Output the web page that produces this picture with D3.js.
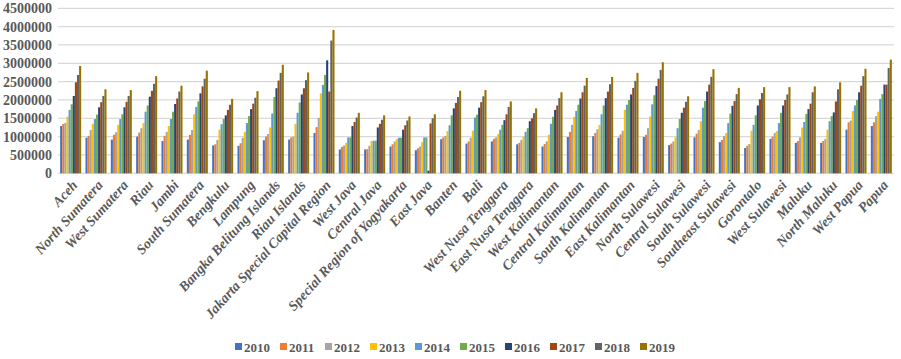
<!DOCTYPE html>
<html><head><meta charset="utf-8">
<script src="https://cdn.jsdelivr.net/npm/d3@7"></script>
<style>body{margin:0;background:#fff}svg{display:block}</style>
</head><body><svg id="c" width="901" height="359"></svg>
<script>
const provinces = ["Aceh","North Sumatera","West Sumatera","Riau","Jambi","South Sumatera","Bengkulu","Lampung","Bangka Belitung Islands","Riau Islands","Jakarta Special Capital Region","West Java","Central Java","Special Region of Yogyakarta","East Java","Banten","Bali","West Nusa Tenggara","East Nusa Tenggara","West Kalimantan","Central Kalimantan","South Kalimantan","East Kalimantan","North Sulawesi","Central Sulawesi","South Sulawesi","Southeast Sulawesi","Gorontalo","West Sulawesi","Maluku","North Maluku","West Papua","Papua"];
const years = ["2010","2011","2012","2013","2014","2015","2016","2017","2018","2019"];
const yTicks = [0,500000,1000000,1500000,2000000,2500000,3000000,3500000,4000000,4500000];
const colors = ["#4472C4","#ED7D31","#A5A5A5","#FFC000","#5B9BD5","#70AD47","#264478","#9E480E","#636363","#997300"];

const s2010 = [1290000,970000,920000,1000000,880000,920000,760000,750000,900000,920000,1100000,650000,650000,730000,630000,930000,810000,870000,790000,730000,990000,1010000,970000,990000,770000,980000,850000,690000,940000,830000,830000,1190000,1290000];
const s2011 = [1345000,1020000,1050000,1110000,1020000,1050000,790000,820000,1000000,980000,1260000,720000,660000,790000,680000,980000,870000,940000,830000,800000,1130000,1100000,1060000,1050000,810000,1080000,910000,750000,1000000,880000,880000,1390000,1390000];
const s2012 = [1373000,1180000,1120000,1230000,1130000,1180000,910000,970000,1070000,1000000,1510000,760000,750000,870000,730000,1020000,970000,980000,910000,870000,1320000,1200000,1160000,1230000,870000,1180000,1020000,800000,1100000,980000,940000,1440000,1560000];
const s2013 = [1545000,1350000,1320000,1370000,1290000,1610000,1190000,1130000,1250000,1350000,2180000,830000,880000,930000,850000,1150000,1160000,1070000,1000000,1050000,1540000,1320000,1730000,1550000,980000,1420000,1100000,1160000,1150000,1250000,1190000,1700000,1680000];
const s2014 = [1727000,1480000,1480000,1680000,1480000,1810000,1340000,1370000,1630000,1650000,2410000,980000,890000,970000,980000,1310000,1520000,1190000,1130000,1350000,1700000,1610000,1870000,1880000,1230000,1790000,1370000,1320000,1370000,1400000,1420000,1850000,2030000];
const s2015 = [1882000,1600000,1610000,1850000,1680000,1960000,1480000,1560000,2080000,1930000,2680000,980000,890000,970000,980000,1580000,1600000,1320000,1230000,1540000,1870000,1850000,2000000,2130000,1480000,1970000,1630000,1580000,1650000,1620000,1560000,2000000,2160000];
const s2016 = [2109000,1800000,1800000,2090000,1890000,2180000,1580000,1750000,2320000,2150000,3080000,1290000,1250000,1190000,70000,1770000,1790000,1450000,1420000,1730000,2040000,2050000,2150000,2380000,1650000,2230000,1840000,1850000,1850000,1750000,1660000,2210000,2420000];
const s2017 = [2482000,1940000,1950000,2250000,2040000,2370000,1730000,1900000,2530000,2320000,2230000,1400000,1350000,1310000,1360000,1920000,1940000,1610000,1500000,1850000,2210000,2230000,2330000,2580000,1790000,2420000,1970000,2020000,2000000,1900000,1960000,2390000,2420000];
const s2018 = [2682000,2110000,2110000,2440000,2230000,2580000,1870000,2060000,2740000,2540000,3620000,1520000,1460000,1440000,1500000,2080000,2100000,1810000,1640000,2050000,2390000,2430000,2520000,2820000,1950000,2630000,2160000,2190000,2150000,2210000,2290000,2650000,2870000];
const s2019 = [2927000,2290000,2270000,2650000,2390000,2800000,2030000,2240000,2960000,2750000,3910000,1650000,1580000,1550000,1610000,2250000,2270000,1960000,1770000,2210000,2600000,2630000,2740000,3030000,2100000,2840000,2330000,2350000,2350000,2370000,2480000,2850000,3100000];
const series = [s2010,s2011,s2012,s2013,s2014,s2015,s2016,s2017,s2018,s2019];

const svg = d3.select("#c");
const pLeft = 58, pRight = 894, pTop = 8.3, pBottom = 173.3;
const y = d3.scaleLinear().domain([0,4500000]).range([pBottom, pTop]);
const x = d3.scaleBand().domain(provinces).range([pLeft, pRight]).paddingInner(0.17).paddingOuter(0.085);
const xi = d3.scaleBand().domain(years).range([0, x.bandwidth()]);

// gridlines
svg.append("g").selectAll("line").data(yTicks).join("line")
  .attr("x1", pLeft).attr("x2", pRight)
  .attr("y1", d => y(d)).attr("y2", d => y(d))
  .attr("stroke", "#d9d9d9").attr("stroke-width", 1.3);

// y labels
svg.append("g").selectAll("text").data(yTicks).join("text")
  .attr("x", 52).attr("y", d => y(d)).attr("dy", "0.35em")
  .attr("text-anchor", "end")
  .attr("font-family", "'Liberation Serif','Times New Roman',serif")
  .attr("font-weight", "bold").attr("font-size", 14).attr("fill", "#595959")
  .text(d => d);

// bars
const g = svg.append("g");
years.forEach((yr, j) => {
  g.append("g").attr("fill", colors[j]).selectAll("rect").data(series[j]).join("rect")
    .attr("x", (d, i) => x(provinces[i]) + xi(yr))
    .attr("width", xi.bandwidth())
    .attr("y", d => y(d))
    .attr("height", d => y(0) - y(d));
});

// category labels
svg.append("g").selectAll("text").data(provinces).join("text")
  .attr("transform", d => `translate(${x(d) + x.bandwidth()/2 + 4},${pBottom + 9}) rotate(-48)`)
  .attr("text-anchor", "end").attr("dy", "0.35em")
  .attr("font-family", "'Liberation Serif','Times New Roman',serif")
  .attr("font-weight", "bold").attr("font-style", "italic")
  .attr("font-size", 14).attr("fill", "#595959")
  .text(d => d);

// legend
const lg = svg.append("g").attr("transform", "translate(235,347)");
const li = lg.selectAll("g").data(years).join("g").attr("transform", (d, i) => `translate(${i*45},0)`);
li.append("rect").attr("x", 0).attr("y", -4).attr("width", 7).attr("height", 7).attr("fill", (d, i) => colors[i]);
li.append("text").attr("x", 9).attr("y", 0).attr("dy", "0.35em")
  .attr("font-family", "'Liberation Serif','Times New Roman',serif")
  .attr("font-weight", "bold").attr("font-size", 13).attr("fill", "#595959")
  .text(d => d);
</script></body></html>
